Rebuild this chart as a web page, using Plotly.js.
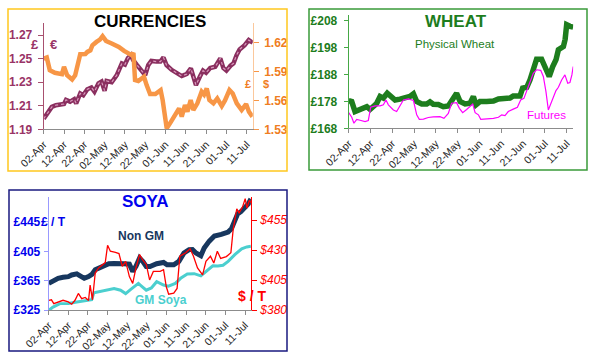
<!DOCTYPE html>
<html>
<head>
<meta charset="utf-8">
<script src="https://cdn.plot.ly/plotly-3.0.1.min.js"></script>
<style>html,body{margin:0;padding:0;background:#fff;}#chart{width:600px;height:363px;}</style>
</head>
<body>
<div id="chart"></div>
<script>
// ---- shared x axis (days since 02-Apr) ----
const tickDays = [0, 10, 20, 30, 40, 50, 60, 70, 80, 90, 100];
const tickLabels = ['02-Apr','12-Apr','22-Apr','02-May','12-May','22-May','01-Jun','11-Jun','21-Jun','01-Jul','11-Jul'];

// ---- CURRENCIES ----
const eurDays = [0,2,4,6,10,11,13,15,16,18,19.5,21.5,23.5,25,27,28.5,30,31,33.5,36,38.5,40,41.5,43,44,46,48,50,51.5,53,55.5,57.5,59,60.5,63,65.5,68,70.5,72.5,73.5,75,77,78.5,80,82,84.5,87,88.5,90,92,93.5,95,96.5,99,101,103];
const eurVals = [1.199,1.204,1.209,1.2105,1.2115,1.215,1.2135,1.2155,1.212,1.2205,1.219,1.224,1.2255,1.222,1.229,1.2305,1.2228,1.231,1.230,1.236,1.246,1.245,1.2505,1.253,1.249,1.2445,1.2405,1.236,1.2445,1.248,1.2475,1.2475,1.251,1.2445,1.2405,1.2375,1.2352,1.237,1.2417,1.236,1.2276,1.235,1.2398,1.238,1.242,1.2431,1.2502,1.242,1.2398,1.244,1.246,1.253,1.2578,1.2615,1.2658,1.2635];
const usdDays = [0,1.5,3,5.5,9,10,11.5,14,15.5,16.5,18,20.5,21.5,23,24,26,27.7,29,30.7,33.5,37,39.6,41.7,43.3,44.2,45,46.6,48.3,49.4,50.7,52.4,55,57.6,58.6,59.8,60.6,62.2,64.7,66.7,68,69.6,70.8,72.4,73.7,75.7,77.8,79,80.3,81.6,83.6,85.5,87.7,89.3,91.5,93.1,95.1,97.5,99.7,101.1,102.8];
const usdVals = [1.6034,1.6045,1.5914,1.5886,1.5872,1.5948,1.5862,1.5817,1.586,1.5948,1.6079,1.608,1.6103,1.612,1.6172,1.6207,1.6231,1.6266,1.6217,1.619,1.6155,1.6114,1.6093,1.6069,1.6093,1.581,1.580,1.582,1.5845,1.5759,1.5666,1.5666,1.5707,1.5603,1.5414,1.531,1.5362,1.5448,1.5517,1.5431,1.5552,1.5483,1.5603,1.55,1.5569,1.569,1.566,1.5724,1.5603,1.5569,1.562,1.5541,1.560,1.5707,1.5672,1.5569,1.55,1.5562,1.5483,1.5431];

// ---- WHEAT ----
const wheatDays = [0,1.4,2.9,4.4,6.7,8.3,9.8,11.3,12.8,14.4,15.9,17.7,19.3,21.3,23.5,25.8,28.1,29.7,31.2,33.5,35.8,37.3,38.8,41.1,43.4,45.7,47.7,49.5,51.1,53.4,55.7,57.2,58.4,60.2,63.3,66.4,68.7,71.7,74,75.5,78.6,79.8,81.7,83.2,84.7,86.2,88.5,90.1,92,93.6,95.1,96.2,98.5,99.3,100,101.5,103];
const wheatVals = [178.2,177.9,174.2,174.8,175.4,176,175,176.3,177.2,179.8,179.2,181,180,178.5,178.8,179.4,179.8,180.8,177.9,177,177,177.8,176.9,176.8,176,176.3,178.5,181,177.9,177,177.3,179.8,176.7,177.9,177.9,178.1,178.9,178.8,179.2,180,180,182.9,183.2,186,190.3,193.6,193.6,190.9,187.2,190.9,193.4,197.1,198.3,201,206.4,205.8,205.5];
const futDays = [0,1.4,2.4,3.7,5.2,7.5,9,10.1,12.1,14.4,15.9,17.1,18.2,20.5,22,23.2,25.1,27.4,29.7,31.2,32.4,34.3,36.5,38.8,41.9,43.7,45.7,47.2,49.5,50.8,52.3,54.1,55.7,56.9,58,59.5,60.6,63.3,66.4,68.7,70.2,71.7,73.2,75.5,77.4,78.9,80.4,82.4,84.7,86.2,88.1,89.3,90.5,91.6,92.7,93.9,95.1,96.2,97.7,99.2,100.5,101.5,102.4,103];
const futVals = [173.8,172.1,169.9,171.3,171,170.5,170.9,175.8,176.3,176.3,176.7,178.5,176.7,174.8,174.2,175.8,178.5,178.9,178.3,173,171.3,171.4,172,172.2,172.3,171.7,173.5,177.3,177.5,175.4,173.8,175,176.3,177,173.8,173,171.3,171.4,171.7,172.1,173,172.7,174.2,175.1,175.8,178.5,179.1,183.5,188.4,189.7,189.5,187.2,181.6,174.8,177.3,179.8,182,183.2,185.9,187.8,184.7,185,187.8,190.9];

// ---- SOYA ----
const ngDays = [0,2.2,4.8,7.3,10,11.7,14.3,16,18.1,20.3,22,23.7,25.4,28,30.6,33.3,35.8,38.4,41.1,42.8,44.5,46.3,48,49.7,51.6,55,58.5,60.3,63.7,66.3,68.9,71.5,73.2,75,77.5,79.2,81.8,84.4,87.9,91.4,93.1,94.8,96.2,97.9,100,101.7,103];
const ngVals = [361.3,365,368.2,369.6,370.5,372.8,374.2,371.5,368.2,370.5,373.5,379.8,382,386.5,388,388.5,389,388,387.5,377.4,385,395.8,391,384.2,384.2,388,389.8,386.5,386.5,391.2,402.7,407.3,407.5,402.7,399,409.6,418.9,425.8,428,431.2,435.9,448.8,455.7,459,465,469.6,476.4];
const gmDays = [0,2.2,5.7,10,14.3,19.4,21.9,23,25.4,29.7,33.3,36.6,39.2,41.8,44.5,45.7,47.1,49.7,52.3,55,58.5,61,64.5,67.2,70.6,74.1,77.5,81,83.6,86.2,88.8,91.4,94.8,98.3,100.9,103];
const gmVals = [324.5,329,333.7,334,335.9,338.2,339,348.4,349.7,353,354.3,352,347.4,353,359,361.2,358,352,355,363.6,359,357.5,361.3,368.2,374.2,374.5,371.5,379.8,385.2,385,386,391.2,400.4,408.3,411,412];
const usdSoyaDays = [0,1.4,2.6,4.8,7.3,10,11.7,13.4,15.1,16.8,18.6,20.3,21.1,22.3,23.7,25.4,27.6,28.8,30,31.4,34,35.8,37.5,39.2,41.1,42.8,44.5,46.3,48,49.7,51.4,53.3,56.8,58.5,59.9,61.1,63.7,65.4,66.8,69.8,72,73.7,75.8,78.4,80.1,82.4,84.1,85.9,87.6,90.5,92.8,94,95.8,97,98.7,100.1,101,102.2,103];
const usdSoyaVals = [388.1,388.5,385.3,386.5,388.1,386.7,384.8,388.1,393.8,389.5,390.5,388,400.8,388.5,410.8,415,417.8,419.5,433.9,429,428,427,416.3,420.6,407.9,402.2,415.5,426.2,421.5,418,405.1,412.2,412.2,413.6,399.4,393.2,394,398,424.8,427.7,431,425,415,409.3,420.6,424.8,419.2,429,423,424.5,427.7,447.5,464.4,461,465.8,472.8,465,471.4,469.5];

// ---- helpers ----
const F = 'Liberation Sans, Arial, sans-serif';
const W = 600, H = 363;
const px = v => v / W;
const py = v => 1 - v / H;

const lineTrace = (x, y, xa, ya, color, width, extra) =>
  Object.assign({x: x, y: y, xaxis: xa, yaxis: ya, type: 'scatter', mode: 'lines',
    line: {color: color, width: width, shape: 'linear'}, hoverinfo: 'skip', showlegend: false}, extra || {});

const data = [
  lineTrace(eurDays, eurVals, 'x', 'y', '#8a2f5f', 4.5),
  lineTrace(eurDays, eurVals, 'x', 'y', '#d99abd', 1.2, {line: {color: '#d99abd', width: 1.2, dash: 'dot'}}),
  lineTrace(usdDays, usdVals, 'x', 'y2', '#f79646', 4.5),
  lineTrace(wheatDays, wheatVals, 'x2', 'y3', '#1d7d1d', 5.5),
  lineTrace(futDays, futVals, 'x2', 'y3', '#ff00ff', 1.2),
  lineTrace(ngDays, ngVals, 'x3', 'y4', '#17375e', 5),
  lineTrace(gmDays, gmVals, 'x3', 'y4', '#4bcfcf', 3),
  lineTrace(usdSoyaDays, usdSoyaVals, 'x3', 'y5', '#ff0000', 1.3)
];

const xCommon = (dom, anchor, lineColor) => ({
  domain: dom, anchor: anchor, range: [0, 103],
  tickmode: 'array', tickvals: tickDays, ticktext: tickLabels, tickangle: -45,
  ticks: 'outside', ticklen: 4, tickcolor: lineColor,
  showline: true, linecolor: lineColor, linewidth: 1,
  showgrid: false, zeroline: false, fixedrange: true,
  tickfont: {family: F, size: 10.5, color: '#262626'}
});

const yCommon = (o) => Object.assign({
  showgrid: false, zeroline: false, fixedrange: true, showline: true, linewidth: 1,
  ticks: 'outside', ticklen: 5, tickmode: 'linear'
}, o);

const layout = {
  width: W, height: H,
  margin: {l: 0, r: 0, t: 0, b: 0},
  paper_bgcolor: '#ffffff', plot_bgcolor: 'rgba(0,0,0,0)',
  showlegend: false,
  font: {family: F},
  // Currencies
  xaxis: xCommon([px(43.7), px(252.8)], 'y', '#8c8c8c'),
  yaxis: yCommon({domain: [py(129.3), py(23.3)], anchor: 'x', range: [1.19, 1.28], tick0: 1.19, dtick: 0.02,
    tickformat: '.2f', linecolor: '#a8506f', tickcolor: '#a8506f', ticklabelstandoff: 3,
    tickfont: {family: F, size: 12, color: '#993366', weight: 'bold'}}),
  yaxis2: yCommon({overlaying: 'y', side: 'right', anchor: 'x', range: [1.53, 1.64], tick0: 1.53, dtick: 0.03,
    tickformat: '.2f', linecolor: '#fbc89c', tickcolor: '#f79646', ticklabelstandoff: 3,
    tickfont: {family: F, size: 12, color: '#ef7d22', weight: 'bold'}}),
  yaxis6: yCommon({overlaying: 'y', side: 'right', anchor: 'x', range: [1.53, 1.64], tick0: 1.53, dtick: 0.03,
    ticks: 'inside', showticklabels: false, showline: false, tickcolor: '#f79646'}),
  // Wheat
  xaxis2: xCommon([px(348.7), px(573.2)], 'y3', '#8c8c8c'),
  yaxis3: yCommon({domain: [py(128.3), py(15)], anchor: 'x2', range: [168, 210], tick0: 168, dtick: 10,
    tickprefix: '£', linecolor: '#45a845', tickcolor: '#45a845', ticklen: 4, ticklabelstandoff: 4,
    tickfont: {family: F, size: 12, color: '#1d7d1d', weight: 'bold'}}),
  // Soya
  xaxis3: xCommon([px(48.7), px(250.9)], 'y4', '#8c8c8c'),
  yaxis4: yCommon({domain: [py(310), py(197)], anchor: 'x3', range: [325, 479], tick0: 325, dtick: 40,
    tickprefix: '£', linecolor: '#9999ff', tickcolor: '#9999ff', ticklen: 4, ticklabelstandoff: 1,
    tickfont: {family: F, size: 12, color: '#0000ee', weight: 'bold'}}),
  yaxis5: yCommon({overlaying: 'y4', side: 'right', anchor: 'x3', range: [380, 474.2], tick0: 380, dtick: 25,
    tickprefix: '$', linecolor: '#ff0000', tickcolor: '#ff0000', ticklen: 5, ticklabelstandoff: 1,
    tickfont: {family: F, size: 12, color: '#ff0000', style: 'italic'}}),
  yaxis7: yCommon({overlaying: 'y4', side: 'right', anchor: 'x3', range: [380, 474.2], tick0: 380, dtick: 25,
    ticks: 'inside', ticklen: 5, showticklabels: false, showline: false, tickcolor: '#ff0000'}),
  shapes: [
    {type: 'rect', xref: 'paper', yref: 'paper', x0: px(8), x1: px(287), y0: py(171), y1: py(9),
      line: {color: '#ffc81e', width: 1.5}},
    {type: 'rect', xref: 'paper', yref: 'paper', x0: px(309), x1: px(587), y0: py(170), y1: py(9),
      line: {color: '#3a9a3a', width: 1.5}},
    {type: 'rect', xref: 'paper', yref: 'paper', x0: px(9), x1: px(287), y0: py(351), y1: py(190),
      line: {color: '#1a1a80', width: 1.5}}
  ],
  annotations: []
};

const ann = (text, x, y, size, color, bold, italic) => ({
  text: text, xref: 'paper', yref: 'paper', x: px(x), y: py(y), xanchor: 'center', yanchor: 'middle',
  showarrow: false, font: {family: F, size: size, color: color, weight: bold ? 'bold' : 'normal', style: italic ? 'italic' : 'normal'}
});

layout.annotations = [
  ann('CURRENCIES', 150, 21, 17, '#000000', true),
  ann('£', 35, 44, 13, '#993366', true),
  ann('€', 53, 44, 13, '#993366', true),
  ann('£', 247.5, 84, 11, '#ef7d22', true),
  ann('$', 265.5, 84, 11, '#ef7d22', true),
  ann('WHEAT', 456, 22, 17, '#1d7d1d', true),
  ann('Physical Wheat', 455, 44, 11.5, '#1d7d1d', false),
  ann('Futures', 546, 115, 11.5, '#ff00ff', false),
  ann('SOYA', 145, 202, 17, '#0000ee', true),
  ann('£ / T', 53, 222, 12, '#0000ee', true),
  ann('Non GM', 140.5, 236, 12, '#17375e', true),
  ann('GM Soya', 161, 300, 12, '#4bcfcf', true),
  ann('$ / T', 252, 296, 14, '#ff0000', true)
];

Plotly.newPlot('chart', data, layout, {staticPlot: true, displayModeBar: false});
</script>
</body>
</html>
